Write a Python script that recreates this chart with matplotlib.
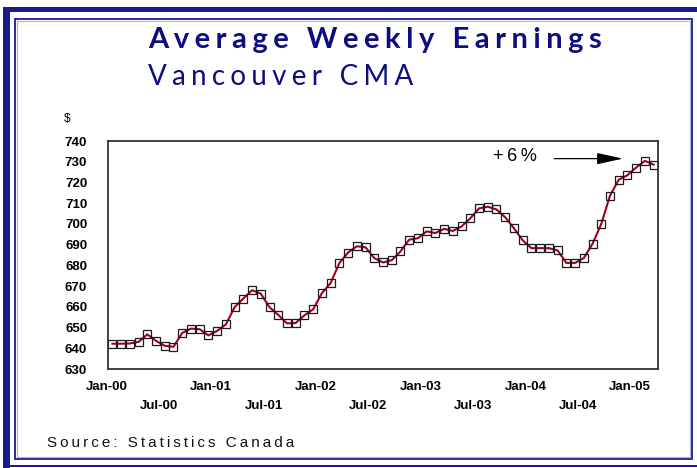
import matplotlib
matplotlib.use("Agg")
import matplotlib.pyplot as plt
import matplotlib.transforms as mtransforms
from matplotlib.patches import Rectangle

# monthly values, Jan-00 .. Mar-05
earnings = [642.2, 642.2, 642.3, 643.1, 646.7, 643.6, 641.2, 640.7, 647.4, 649.5,
            649.2, 646.2, 648.4, 651.5, 659.8, 664.0, 668.0, 666.4, 659.8, 656.1,
            652.0, 652.2, 655.9, 658.8, 666.6, 671.5, 681.1, 686.2, 689.2, 688.7,
            683.5, 681.4, 682.5, 686.7, 692.4, 693.1, 696.4, 695.6, 697.6, 696.6,
            698.8, 702.7, 707.5, 708.3, 707.0, 703.2, 697.9, 692.1, 688.3, 688.3,
            688.3, 687.2, 681.2, 681.2, 683.5, 690.4, 700.0, 713.6, 721.3, 723.5,
            727.2, 730.4, 728.6]
jan_labels = ["Jan-00", "Jan-01", "Jan-02", "Jan-03", "Jan-04", "Jan-05"]
jul_labels = ["Jul-00", "Jul-01", "Jul-02", "Jul-03", "Jul-04"]
y_ticks = list(range(630, 741, 10))

W, H = 697, 468
navy = "#1a1a8c"
fig = plt.figure(figsize=(W / 100, H / 100), dpi=100)


def px(x, y):
    return x / W, 1 - y / H


def spaced(s, sep="\u2009"):
    return sep.join(s)


# frame
def rect(x0, y0, x1, y1, **kw):
    fx0, fy1 = px(x0, y0)
    fx1, fy0 = px(x1, y1)
    fig.add_artist(Rectangle((fx0, fy0), fx1 - fx0, fy1 - fy0,
                             transform=fig.transFigure, **kw))


rect(3, 7, W, 12, color=navy, lw=0)
rect(3, 7, 10, H, color=navy, lw=0)
rect(10, 465, W, 467, color=navy, lw=0)
rect(15, 19, 692, 459, fill=False, ec=navy, lw=1.3)
rect(17, 21, 690, 457, fill=False, ec="#b0b0e0", lw=0.8)

# titles
x0, y0 = px(148, 40)
fig.text(x0, y0, spaced("Average Weekly Earnings", "\u2009\u200a"), fontsize=21,
         fontweight="bold", color="#0d0d80", family=["Lato", "DejaVu Sans"],
         ha="left", va="center")
x0, y0 = px(148, 77)
fig.text(x0, y0, spaced("Vancouver CMA", "\u2009\u200a"), fontsize=20,
         color="#0d0d80", family=["Lato", "DejaVu Sans"], ha="left", va="center")
x0, y0 = px(47, 443)
fig.text(x0, y0, spaced("Source: Statistics Canada", "\u2009"), fontsize=11,
         color="#111111", family=["Liberation Sans", "DejaVu Sans"], ha="left", va="center")
x0, y0 = px(67, 119)
fig.text(x0, y0, "$", fontsize=8.5, family="Liberation Sans", ha="center", va="center")

# axes
l, t = px(108, 141)
r, b = px(658, 369)
ax = fig.add_axes([l, b, r - l, t - b])
months = list(range(len(earnings)))
ax.plot(months, earnings, color="#a00020", lw=1.5, marker="s", markersize=5.5,
        fillstyle="none", markeredgecolor="#1a1a1a", markeredgewidth=0.9)
ax.set_xlim(-0.5, len(earnings) - 0.5)
ax.set_ylim(630, 740)
ax.set_yticks(y_ticks)
ax.set_yticklabels([str(v) for v in y_ticks])
ax.set_xticks([12 * i for i in range(len(jan_labels))], jan_labels)
ax.set_xticks([6 + 12 * i for i in range(len(jul_labels))], jul_labels, minor=True)
ax.tick_params(which="both", length=0)
ax.tick_params(axis="y", pad=15)
ax.tick_params(axis="x", which="major", pad=9)
ax.tick_params(axis="x", which="minor", pad=22.5)
for lbl in ax.get_yticklabels() + ax.get_xticklabels() + ax.get_xticklabels(minor=True):
    lbl.set_fontfamily("Liberation Sans")
    lbl.set_fontweight("bold")
    lbl.set_fontsize(9.5)
shift = mtransforms.ScaledTranslation(-6 / 100, 0, fig.dpi_scale_trans)
for lbl in ax.get_xticklabels() + ax.get_xticklabels(minor=True):
    lbl.set_transform(lbl.get_transform() + shift)
for s in ax.spines.values():
    s.set_color("#333333")
    s.set_linewidth(1.3)

# annotation
ax.text(43.6, 732.5, "+" + "\u2009" + "6" + "\u2009" + "%", fontsize=13,
        family="Liberation Sans", ha="left", va="center")
ax.annotate("", xy=(58.8, 731.5), xytext=(50.3, 731.5),
            arrowprops=dict(arrowstyle="-|>,head_length=1.6,head_width=0.35",
                            color="black", lw=0.9))

fig.savefig("out.png", dpi=100)
